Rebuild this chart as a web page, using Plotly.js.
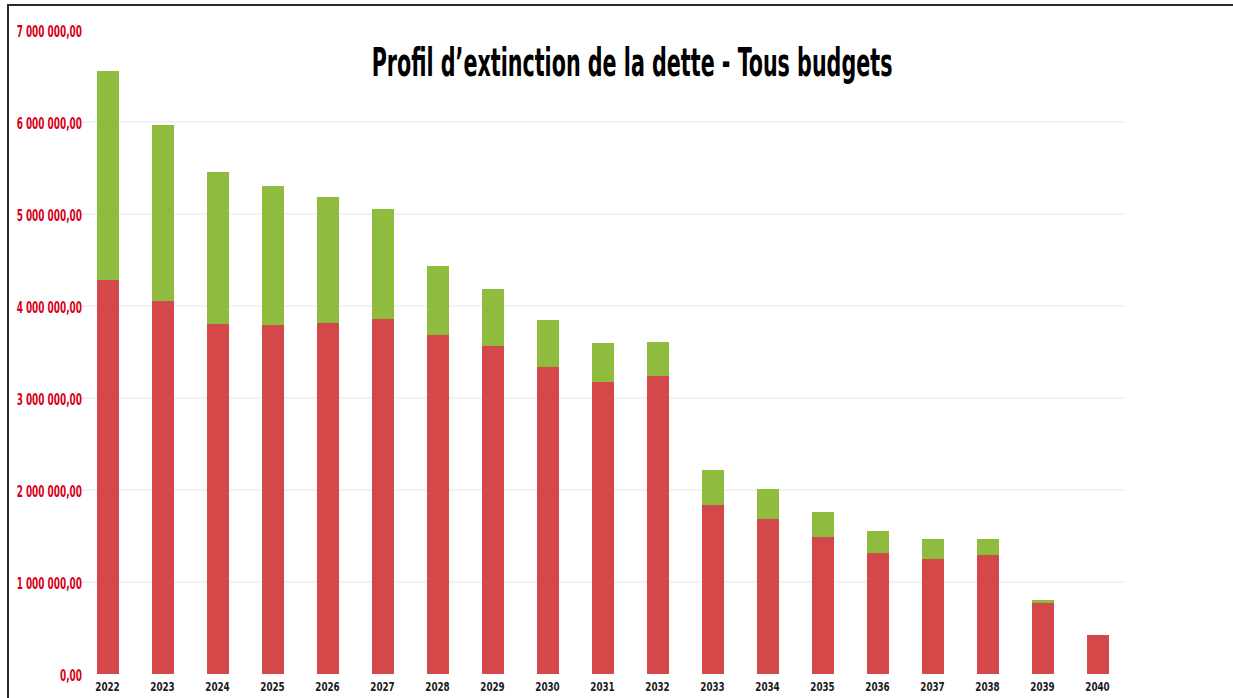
<!DOCTYPE html>
<html>
<head>
<meta charset="utf-8">
<script src="https://cdn.plot.ly/plotly-3.0.1.min.js"></script>
<style>
  html, body { margin: 0; padding: 0; background: #fff; }
  #wrap { position: relative; width: 1233px; height: 698px; overflow: hidden; }
  #chart { width: 1233px; height: 698px; }
  #frame { position: absolute; left: 7px; top: 4px; right: -4px; bottom: -4px;
           border-left: 2px solid #2a2a2a; border-top: 2px solid #2a2a2a; pointer-events: none; }
</style>
</head>
<body>
<div id="wrap">
  <div id="chart"></div>
  <div id="frame"></div>
</div>
<script>
// Data
const years = ["2022","2023","2024","2025","2026","2027","2028","2029","2030","2031",
               "2032","2033","2034","2035","2036","2037","2038","2039","2040"];
// lower (red) part of each bar
const redValues = [4280000, 4055000, 3800000, 3790000, 3810000, 3860000, 3680000, 3570000,
                   3340000, 3170000, 3240000, 1840000, 1680000, 1490000, 1320000, 1255000,
                   1293000, 770000, 420000];
// totals (top of green part)
const totalValues = [6555000, 5967000, 5460000, 5300000, 5180000, 5050000, 4430000, 4180000,
                     3850000, 3600000, 3610000, 2220000, 2010000, 1760000, 1550000, 1464000,
                     1464000, 800000, 420000];
const greenValues = totalValues.map((t, i) => t - redValues[i]);
const yTickVals = [0, 1000000, 2000000, 3000000, 4000000, 5000000, 6000000, 7000000];
const yTickText = ["0,00", "1 000 000,00", "2 000 000,00", "3 000 000,00", "4 000 000,00",
                   "5 000 000,00", "6 000 000,00", "7 000 000,00"];
const titleText = "Profil d’extinction de la dette - Tous budgets";

const narrow = "DejaVu Sans Condensed, Liberation Sans Narrow, sans-serif";

const traces = [
  { type: "bar", x: years, y: redValues, marker: { color: "#d4484a" }, hoverinfo: "x+y" },
  { type: "bar", x: years, y: greenValues, marker: { color: "#8fbb3f" }, hoverinfo: "x+y" }
];

const layout = {
  width: 1233, height: 698,
  barmode: "stack",
  bargap: 0.6,
  showlegend: false,
  paper_bgcolor: "#ffffff",
  plot_bgcolor: "#ffffff",
  margin: { l: 80, r: 108, t: 30, b: 24 },
  title: {
    text: titleText,
    x: 0.5126, xanchor: "center",
    y: 0.911, yanchor: "middle",
    font: { family: narrow, size: 39, color: "#000", weight: "bold" }
  },
  xaxis: {
    type: "category",
    tickfont: { family: narrow, size: 12.5, color: "#1a1a1a", weight: "bold" },
    showgrid: false, zeroline: false, showline: false,
    ticks: "", ticklen: 0,
    ticklabelstandoff: 3
  },
  yaxis: {
    range: [0, 7000000],
    tickvals: yTickVals, ticktext: yTickText,
    tickfont: { family: narrow, size: 15, color: "#d5001c", weight: "bold" },
    showgrid: true, gridcolor: "#f2f2f2", gridwidth: 1.5,
    zeroline: false, showline: false, ticks: "",
    ticklabelstandoff: 2
  }
};

function squeeze(selector, factor, dx, dy) {
  document.querySelectorAll(selector).forEach(function (t) {
    const len = t.getComputedTextLength();
    t.setAttribute("lengthAdjust", "spacingAndGlyphs");
    t.setAttribute("textLength", (len * factor).toFixed(2));
    if (dx || dy) {
      const tr = t.getAttribute("transform") || "";
      t.setAttribute("transform", tr + " translate(" + (dx || 0) + "," + (dy || 0) + ")");
    }
  });
}

Plotly.newPlot("chart", traces, layout, { displayModeBar: false, staticPlot: true }).then(function () {
  squeeze("#chart .ytick text", 0.66, 5, 2);
  squeeze("#chart .xtick text", 0.78, 0, 0);
  document.querySelectorAll("#chart .gtitle").forEach(function (t) {
    const len = t.getComputedTextLength();
    const f = 521 / len;
    const cx = parseFloat(t.getAttribute("x"));
    const tr = t.getAttribute("transform") || "";
    t.setAttribute("transform", tr + " translate(" + cx + ",0) scale(" + f.toFixed(4) + ",1) translate(" + (-cx) + ",0)");
  });
});
</script>
</body>
</html>
